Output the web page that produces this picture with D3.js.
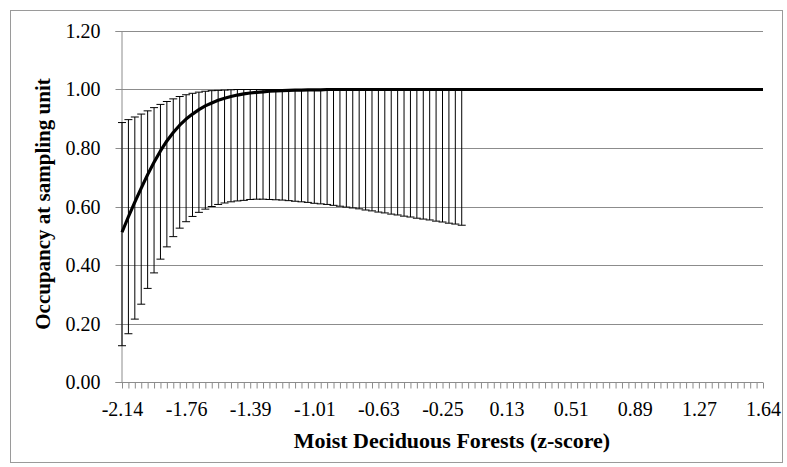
<!DOCTYPE html>
<html>
<head>
<meta charset="utf-8">
<script src="https://cdn.jsdelivr.net/npm/d3@7/dist/d3.min.js"></script>
<style>
  html, body { margin: 0; padding: 0; background: #fff; }
  svg { display: block; }
  text { font-family: "Liberation Serif", "Times New Roman", serif; fill: #000; }
</style>
</head>
<body>
<svg id="chart" width="787" height="467"></svg>
<script>
// Moist deciduous forest z-score grid (categories along the x axis)
const zScore = [
  -2.143, -2.105, -2.067, -2.030, -1.992, -1.954, -1.916, -1.878, -1.840, -1.802,
  -1.764, -1.727, -1.689, -1.651, -1.613, -1.575, -1.537, -1.499, -1.461, -1.423,
  -1.386, -1.348, -1.310, -1.272, -1.234, -1.196, -1.158, -1.120, -1.083, -1.045,
  -1.007, -0.969, -0.931, -0.893, -0.855, -0.817, -0.780, -0.742, -0.704, -0.666,
  -0.628, -0.590, -0.552, -0.514, -0.476, -0.439, -0.401, -0.363, -0.325, -0.287,
  -0.249, -0.211, -0.173, -0.136, -0.098, -0.060, -0.022, 0.016, 0.054, 0.092,
  0.130, 0.167, 0.205, 0.243, 0.281, 0.319, 0.357, 0.395, 0.433, 0.471,
  0.508, 0.546, 0.584, 0.622, 0.660, 0.698, 0.736, 0.774, 0.811, 0.849,
  0.887, 0.925, 0.963, 1.001, 1.039, 1.077, 1.114, 1.152, 1.190, 1.228,
  1.266, 1.304, 1.342, 1.380, 1.418, 1.455, 1.493, 1.531, 1.569, 1.607,
  1.644
];

// Predicted occupancy at each z-score
const occupancy = [
  0.512, 0.565, 0.615, 0.663, 0.709, 0.751, 0.790, 0.824, 0.853, 0.878,
  0.899, 0.916, 0.931, 0.944, 0.954, 0.963, 0.970, 0.976, 0.981, 0.985,
  0.988, 0.990, 0.992, 0.994, 0.995, 0.996, 0.997, 0.998, 0.998, 0.999,
  0.999, 0.999, 1.000, 1.000, 1.000, 1.000, 1.000, 1.000, 1.000, 1.000,
  1.000, 1.000, 1.000, 1.000, 1.000, 1.000, 1.000, 1.000, 1.000, 1.000,
  1.000, 1.000, 1.000, 1.000, 1.000, 1.000, 1.000, 1.000, 1.000, 1.000,
  1.000, 1.000, 1.000, 1.000, 1.000, 1.000, 1.000, 1.000, 1.000, 1.000,
  1.000, 1.000, 1.000, 1.000, 1.000, 1.000, 1.000, 1.000, 1.000, 1.000,
  1.000, 1.000, 1.000, 1.000, 1.000, 1.000, 1.000, 1.000, 1.000, 1.000,
  1.000, 1.000, 1.000, 1.000, 1.000, 1.000, 1.000, 1.000, 1.000, 1.000,
  1.000
];

// Confidence limits (available for the first 54 z-scores)
const upperCI = [
  0.887, 0.897, 0.906, 0.916, 0.927, 0.938, 0.949, 0.959, 0.968, 0.976,
  0.982, 0.987, 0.991, 0.994, 0.996, 0.997, 0.998, 0.999, 1.000, 1.000,
  1.000, 1.000, 1.000, 1.000, 1.000, 1.000, 1.000, 1.000, 1.000, 1.000,
  1.000, 1.000, 1.000, 1.000, 1.000, 1.000, 1.000, 1.000, 1.000, 1.000,
  1.000, 1.000, 1.000, 1.000, 1.000, 1.000, 1.000, 1.000, 1.000, 1.000,
  1.000, 1.000, 1.000, 1.000
];
const lowerCI = [
  0.124, 0.165, 0.215, 0.266, 0.320, 0.373, 0.420, 0.462, 0.497, 0.526,
  0.548, 0.566, 0.580, 0.591, 0.600, 0.607, 0.612, 0.616, 0.619, 0.621,
  0.624, 0.625, 0.625, 0.624, 0.623, 0.622, 0.620, 0.618, 0.616, 0.614,
  0.611, 0.609, 0.607, 0.604, 0.601, 0.598, 0.595, 0.592, 0.588, 0.585,
  0.581, 0.578, 0.574, 0.571, 0.567, 0.564, 0.560, 0.557, 0.554, 0.550,
  0.547, 0.543, 0.540, 0.536
];

// Axis labels
const xTickLabels = ["-2.14", "-1.76", "-1.39", "-1.01", "-0.63", "-0.25", "0.13", "0.51", "0.89", "1.27", "1.64"];
const yTicks = [0, 0.2, 0.4, 0.6, 0.8, 1.0, 1.2];
const xTitle = "Moist Deciduous Forests (z-score)";
const yTitle = "Occupancy at sampling unit";

const svg = d3.select("#chart");
const plot = { left: 121, right: 763, top: 31, bottom: 382 };
const gridColor = "#8c8c8c";

// Outer chart border
svg.append("rect")
  .attr("x", 10.5).attr("y", 10.5)
  .attr("width", 772).attr("height", 452)
  .attr("fill", "none").attr("stroke", "#9a9a9a").attr("stroke-width", 1);

const x = d3.scalePoint().domain(zScore).range([plot.left + 1, plot.right]);
const y = d3.scaleLinear().domain([0, 1.2]).range([plot.bottom, plot.top]);

// Horizontal gridlines
svg.append("g")
  .selectAll("line")
  .data(yTicks.filter(d => d > 0))
  .join("line")
  .attr("x1", plot.left).attr("x2", plot.right)
  .attr("y1", d => Math.round(y(d)) + 0.5).attr("y2", d => Math.round(y(d)) + 0.5)
  .attr("stroke", gridColor).attr("stroke-width", 1);

// Y axis
const yAxis = svg.append("g")
  .attr("transform", `translate(${plot.left + 0.5},0)`)
  .call(d3.axisLeft(y).tickValues(yTicks).tickSize(6).tickPadding(15).tickFormat(d3.format(".2f")));
yAxis.select(".domain").attr("stroke", gridColor);
yAxis.selectAll(".tick line").attr("stroke", gridColor);
yAxis.selectAll(".tick").attr("transform", d => `translate(0,${Math.round(y(d)) + 0.5})`);
yAxis.selectAll("text").attr("font-size", 20).attr("font-family", "Liberation Serif").attr("fill", "#000");

// X axis: a tick at every category, a label at every tenth
const xAxis = svg.append("g")
  .attr("transform", `translate(0,${plot.bottom + 0.5})`)
  .call(d3.axisBottom(x).tickValues(zScore).tickSize(6).tickSizeOuter(0)
    .tickFormat((d, i) => (i % 10 === 0 ? xTickLabels[i / 10] : "")));
xAxis.select(".domain").attr("stroke", gridColor).attr("d", `M${plot.left},0H${plot.right}`);
xAxis.selectAll(".tick line").attr("stroke", gridColor);
xAxis.selectAll("text")
  .attr("font-size", 20).attr("font-family", "Liberation Serif").attr("fill", "#000")
  .attr("y", 33).attr("dy", 0);

// Error bars with caps
const bars = svg.append("g").attr("stroke", "#000").attr("stroke-width", 1);
const ci = lowerCI.map((lo, i) => ({ z: zScore[i], lo, hi: upperCI[i] }));
bars.selectAll("line.stem")
  .data(ci).join("line").attr("class", "stem")
  .attr("x1", d => x(d.z)).attr("x2", d => x(d.z))
  .attr("y1", d => y(d.lo)).attr("y2", d => y(d.hi));
bars.selectAll("line.capLo")
  .data(ci).join("line").attr("class", "capLo")
  .attr("x1", d => x(d.z) - 4).attr("x2", d => x(d.z) + 4)
  .attr("y1", d => y(d.lo)).attr("y2", d => y(d.lo));
bars.selectAll("line.capHi")
  .data(ci).join("line").attr("class", "capHi")
  .attr("x1", d => x(d.z) - 4).attr("x2", d => x(d.z) + 4)
  .attr("y1", d => y(d.hi)).attr("y2", d => y(d.hi));

// Occupancy curve
const line = d3.line().x((d, i) => x(zScore[i])).y(d => y(d));
svg.append("path")
  .datum(occupancy)
  .attr("d", line)
  .attr("fill", "none").attr("stroke", "#000").attr("stroke-width", 3.2)
  .attr("stroke-linejoin", "round");

// Axis titles
svg.append("text")
  .attr("x", 452).attr("y", 448)
  .attr("text-anchor", "middle").attr("font-size", 22).attr("font-weight", "bold")
  .text(xTitle);
svg.append("text")
  .attr("transform", "translate(50,204) rotate(-90)")
  .attr("text-anchor", "middle").attr("font-size", 21).attr("font-weight", "bold")
  .text(yTitle);
</script>
</body>
</html>
